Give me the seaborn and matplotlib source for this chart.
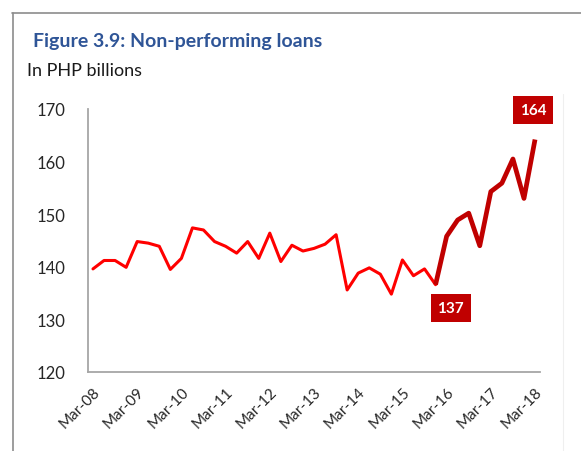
import matplotlib
matplotlib.use("Agg")
import matplotlib.pyplot as plt
from matplotlib.lines import Line2D
import seaborn as sns

# Quarterly non-performing loans, Mar-08 .. Mar-18 (PHP billions)
npl_values = [
    139.6, 141.2, 141.2, 139.9, 144.8, 144.5, 143.9, 139.5, 141.6, 147.4,
    147.0, 144.8, 143.9, 142.6, 144.8, 141.6, 146.4, 141.0, 144.1, 143.0,
    143.5, 144.3, 146.1, 135.6, 138.8, 139.8, 138.6, 134.8, 141.3, 138.3,
    139.6, 136.6, 145.8, 148.9, 150.2, 144.0, 154.3, 155.9, 160.5, 153.0,
    164.2,
]
tick_labels = ["Mar-08", "Mar-09", "Mar-10", "Mar-11", "Mar-12", "Mar-13",
               "Mar-14", "Mar-15", "Mar-16", "Mar-17", "Mar-18"]
y_ticks = [120, 130, 140, 150, 160, 170]

quarter_idx = list(range(len(npl_values)))
split = 31  # index of the trough where the recent upswing starts

sns.set_style("white")
plt.rcParams["font.family"] = ["Lato", "DejaVu Sans"]

fig = plt.figure(figsize=(5.81, 4.52), dpi=100)
ax = fig.add_axes([88 / 581, 1 - 373 / 452, (540 - 88) / 581, (373 - 110) / 452])

sns.lineplot(x=quarter_idx[:split + 1], y=npl_values[:split + 1], ax=ax,
             color="#FF0000", linewidth=2.2)
sns.lineplot(x=quarter_idx[split:], y=npl_values[split:], ax=ax,
             color="#C00000", linewidth=3.4, solid_capstyle="butt")

ax.set_xlim(-0.45, len(npl_values) - 1 + 0.45)
ax.set_ylim(120, 170)
ax.set_yticks(y_ticks)
ax.set_yticklabels([str(t) for t in y_ticks])
ax.set_xticks(quarter_idx[::4])
ax.set_xticklabels(tick_labels, rotation=45, ha="right", rotation_mode="anchor")
ax.set_xlabel("")
ax.set_ylabel("")

for side in ("top", "right"):
    ax.spines[side].set_visible(False)
for side in ("left", "bottom"):
    ax.spines[side].set_color("#A6A6A6")
    ax.spines[side].set_linewidth(1.3)

ax.tick_params(axis="y", length=0, pad=16, labelsize=12, labelcolor="#262626")
ax.tick_params(axis="x", length=0, pad=9, labelsize=11, labelcolor="#262626")

# value callouts for the trough and latest reading
box = dict(boxstyle="square,pad=0.45", facecolor="#C00000", edgecolor="none")
ax.annotate(f"{npl_values[split]:.0f}", xy=(split, npl_values[split]),
            xytext=(11, -17), textcoords="offset points", ha="center", va="center",
            color="white", fontsize=11, fontweight="bold", bbox=box)
last = len(npl_values) - 1
ax.annotate(f"{npl_values[last]:.0f}", xy=(last, npl_values[last]),
            xytext=(-1.5, 21.5), textcoords="offset points", ha="center", va="center",
            color="white", fontsize=11, fontweight="bold", bbox=box)

# titles
fig.text(33 / 581, 1 - 42 / 452, "Figure 3.9: Non-performing loans",
         color="#2F5597", fontsize=14, fontweight="bold", va="center", ha="left")
fig.text(27 / 581, 1 - 71 / 452, "In PHP billions",
         color="#1A1A1A", fontsize=13, va="center", ha="left")

# panel frame (top and left edges)
fig.add_artist(Line2D([12 / 581, 1.0], [1 - 14 / 452, 1 - 14 / 452],
                      transform=fig.transFigure, color="#8C8C8C", linewidth=1.2))
fig.add_artist(Line2D([13 / 581, 13 / 581], [0.0, 1 - 14 / 452],
                      transform=fig.transFigure, color="#8C8C8C", linewidth=1.2))
fig.add_artist(Line2D([563 / 581, 563 / 581], [0.0, 1 - 95 / 452],
                      transform=fig.transFigure, color="#EFEFEF", linewidth=0.8))

fig.savefig("out.png", dpi=100)
